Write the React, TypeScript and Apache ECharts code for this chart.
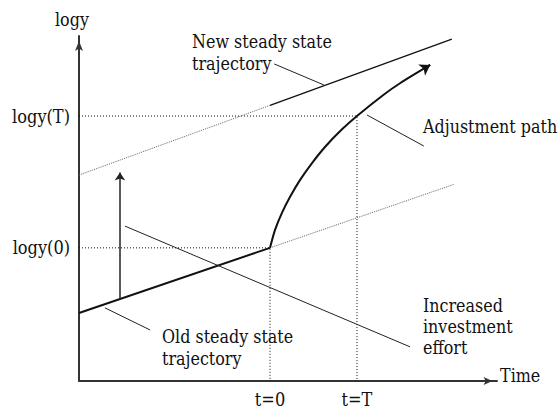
import React, { useEffect, useRef } from 'react';
import * as echarts from 'echarts';

// Axis ticks (abstract units: time 0..100, logy 0..100)
const timeTicks = [45.7, 66.5];
const timeTickLabels = ['t=0', 't=T'];
const logyTicks = [38.6, 76.8];
const logyTickLabels = ['logy(0)', 'logy(T)'];

// Trajectories
const oldTrajectorySolid = [[0, 19.7], [45.7, 38.6]];
const oldTrajectoryDotted = [[45.7, 38.6], [89.7, 57.0]];
const newTrajectoryDotted = [[0, 59.7], [45.7, 79.9]];
const newTrajectorySolid = [[45.7, 79.9], [89.2, 99.1]];
const adjustmentPath = [
  [45.7, 38.6], [46.9, 43.8], [48.5, 48.6], [50.5, 53.4], [52.9, 58.3],
  [55.7, 63.1], [58.9, 67.9], [62.8, 72.8], [66.5, 76.8], [72.8, 82.9],
  [76.8, 86.3], [84.0, 91.6],
];
const investmentArrow = [[9.8, 23.8], [9.8, 60.4]];

// Guide lines
const guideZero = [[0, 38.6], [45.7, 38.6], [45.7, 0]];
const guideT = [[0, 76.8], [66.5, 76.8], [66.5, 0]];

// Annotation pointers
const pointerNew = [[46.7, 91.9], [58.6, 85.8]];
const pointerAdjust = [[68.9, 77.1], [82.5, 68.1]];
const pointerOld = [[6.2, 21.2], [17.0, 14.8]];
const pointerInvest = [[11.0, 44.9], [79.2, 9.9]];

const SERIF = 'DejaVu Serif';
const SERIF_COND = 'DejaVu Serif Condensed, DejaVu Serif';

export default function App() {
  const ref = useRef<HTMLDivElement>(null);
  useEffect(() => {
    document.body.style.margin = '0';
    if (!ref.current) return;
    const chart = echarts.init(ref.current, undefined, { renderer: 'svg' });

    const last = adjustmentPath[adjustmentPath.length - 1];
    const prev = adjustmentPath[adjustmentPath.length - 2];
    const arrowStart = [last[0] + (prev[0] - last[0]) * 0.05, last[1] + (prev[1] - last[1]) * 0.05];

    const lineSeries = (data: number[][], color: string, width: number, type: any = 'solid', extra: any = {}) => ({
      type: 'line', data, symbol: 'none', silent: true,
      lineStyle: { color, width, type, cap: 'butt' }, z: 2, ...extra,
    });

    const ts = { fontFamily: SERIF, fontSize: 19, fill: '#111' };
    const SX = 0.84;

    chart.setOption({
      animation: false,
      backgroundColor: '#fff',
      grid: { left: 79, right: 61, top: 36, bottom: 27 },
      xAxis: {
        type: 'value', min: 0, max: 100,
        splitLine: { show: false }, axisTick: { show: false },
        axisLine: {
          show: true, symbol: ['none', 'arrow'], symbolSize: [6, 9], symbolOffset: [0, -4.5],
          lineStyle: { color: '#333', width: 2 },
        },
        axisLabel: {
          customValues: timeTicks,
          formatter: (v: number) => timeTickLabels[timeTicks.indexOf(v)] ?? '',
          fontFamily: SERIF_COND, fontSize: 18, color: '#111', margin: 9,
        },
      },
      yAxis: {
        type: 'value', min: 0, max: 100,
        splitLine: { show: false }, axisTick: { show: false },
        axisLine: {
          show: true, symbol: ['none', 'arrow'], symbolSize: [6, 10], symbolOffset: [0, -5],
          lineStyle: { color: '#333', width: 2 },
        },
        axisLabel: {
          customValues: logyTicks,
          formatter: (v: number) => logyTickLabels[logyTicks.indexOf(v)] ?? '',
          fontFamily: SERIF_COND, fontSize: 18, color: '#111', margin: 9,
        },
      },
      series: [
        lineSeries(guideZero, '#111', 1, [1, 2]),
        lineSeries(guideT, '#111', 1, [1, 2]),
        lineSeries(oldTrajectoryDotted, '#666', 1, [1, 1]),
        lineSeries(newTrajectoryDotted, '#666', 1, [1, 1]),
        lineSeries(oldTrajectorySolid, '#111', 2),
        lineSeries(newTrajectorySolid, '#111', 1.3),
        lineSeries(adjustmentPath, '#111', 2, 'solid', { smooth: 0.3 }),
        lineSeries(pointerNew, '#222', 1),
        lineSeries(pointerAdjust, '#222', 1),
        lineSeries(pointerOld, '#222', 1),
        lineSeries(pointerInvest, '#222', 1),
        {
          type: 'lines', coordinateSystem: 'cartesian2d', silent: true,
          symbol: ['none', 'arrow'], symbolSize: 8,
          lineStyle: { color: '#222', width: 1.5, opacity: 1 },
          data: [{ coords: investmentArrow }], z: 3,
        },
        {
          type: 'lines', coordinateSystem: 'cartesian2d', silent: true,
          symbol: ['none', 'arrow'], symbolSize: 10,
          lineStyle: { color: '#111', width: 2, opacity: 1 },
          data: [{ coords: [arrowStart, last] }], z: 3,
        },
      ],
      graphic: [
        { type: 'text', left: 55, top: 9, scaleX: SX, style: { ...ts, text: 'logy', lineHeight: 22 } },
        { type: 'text', left: 192, top: 31, scaleX: SX, style: { ...ts, text: 'New steady state\ntrajectory', lineHeight: 22 } },
        { type: 'text', left: 423, top: 116, scaleX: SX, style: { ...ts, text: 'Adjustment path', lineHeight: 22 } },
        { type: 'text', left: 162, top: 326, scaleX: SX, style: { ...ts, text: 'Old steady state\ntrajectory', lineHeight: 22 } },
        { type: 'text', left: 423, top: 295, scaleX: SX, style: { ...ts, text: 'Increased\ninvestment\neffort', lineHeight: 21 } },
        { type: 'text', left: 500, top: 365, scaleX: SX, style: { ...ts, text: 'Time', lineHeight: 22 } },
      ],
    });
    return () => chart.dispose();
  }, []);
  return <div ref={ref} style={{ width: 558, height: 408 }} />;
}
